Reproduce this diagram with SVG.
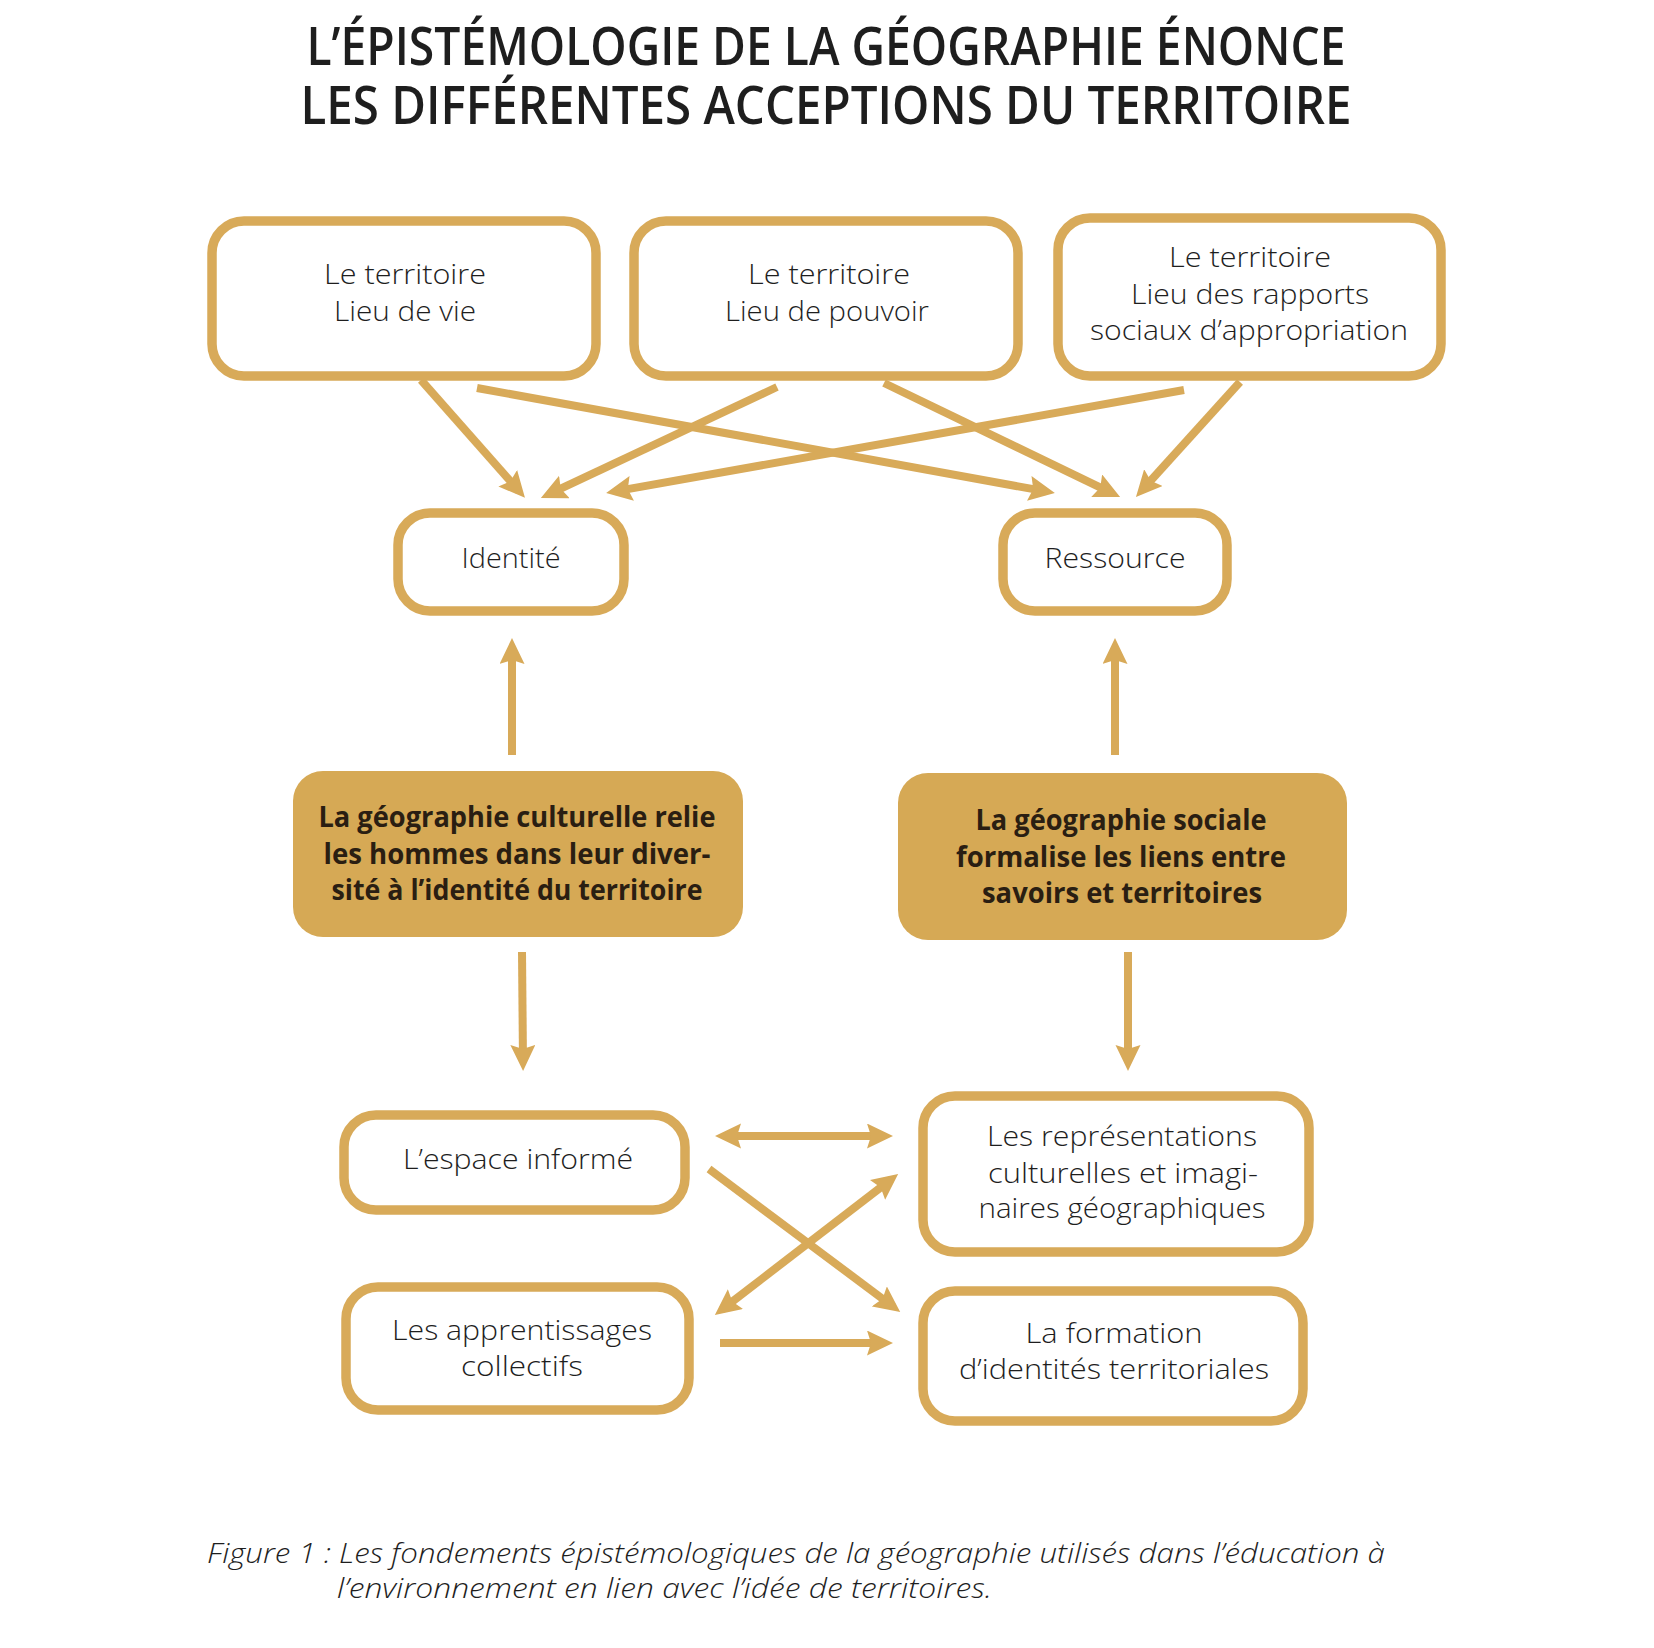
<svg xmlns="http://www.w3.org/2000/svg" width="1654" height="1648" viewBox="0 0 1654 1648">
<style>
.bg{fill:#ffffff}
.box{fill:#ffffff;stroke:#D8AA59;stroke-width:9.5}
.fbox{fill:#D6A955;stroke:none}
.t{font-family:"Open Sans","Liberation Sans",sans-serif;font-weight:300;font-size:28px;fill:#1e1e1e;text-anchor:middle}
.b{font-family:"Open Sans","Liberation Sans",sans-serif;font-weight:700;font-size:28px;fill:#2a1e12;text-anchor:middle}
.title{font-family:"Open Sans","Liberation Sans",sans-serif;font-weight:600;font-size:52px;fill:#1e1e1e;text-anchor:middle}
.cap{font-family:"Open Sans","Liberation Sans",sans-serif;font-weight:300;font-style:italic;font-size:27px;fill:#1e1e1e}
.c{stroke:#D8AA59;stroke-width:8;fill:none}
</style>
<defs>
<marker id="ah" markerUnits="userSpaceOnUse" markerWidth="28" markerHeight="26" refX="17" refY="12.5" orient="auto-start-reverse">
<path d="M0,0 L26,12.5 L0,25 L4,12.5 z" fill="#D8AA59"/>
</marker>
</defs>
<rect class="bg" x="0" y="0" width="1654" height="1648"/>
<g id="title">
<text class="title" x="826" y="65" textLength="1039" lengthAdjust="spacingAndGlyphs">L’ÉPISTÉMOLOGIE DE LA GÉOGRAPHIE ÉNONCE</text>
<text class="title" x="826" y="124" textLength="1051" lengthAdjust="spacingAndGlyphs">LES DIFFÉRENTES ACCEPTIONS DU TERRITOIRE</text>
</g>
<g id="connectors">
<line class="c" x1="421" y1="380" x2="519" y2="491" marker-end="url(#ah)"/>
<line class="c" x1="477" y1="388" x2="1046" y2="491.4" marker-end="url(#ah)"/>
<line class="c" x1="777" y1="387" x2="549" y2="494.2" marker-end="url(#ah)"/>
<line class="c" x1="884" y1="383" x2="1112" y2="493.1" marker-end="url(#ah)"/>
<line class="c" x1="1184" y1="390" x2="615" y2="491.4" marker-end="url(#ah)"/>
<line class="c" x1="1240" y1="382" x2="1142" y2="490.3" marker-end="url(#ah)"/>
<line class="c" x1="512" y1="755" x2="512" y2="647" marker-end="url(#ah)"/>
<line class="c" x1="1115" y1="755" x2="1115" y2="647" marker-end="url(#ah)"/>
<line class="c" x1="522" y1="952" x2="523" y2="1062" marker-end="url(#ah)"/>
<line class="c" x1="1128" y1="952" x2="1128" y2="1062" marker-end="url(#ah)"/>
<line class="c" x1="724" y1="1136" x2="884" y2="1136" marker-start="url(#ah)" marker-end="url(#ah)"/>
<line class="c" x1="709" y1="1169" x2="893" y2="1306.6" marker-end="url(#ah)"/>
<line class="c" x1="722" y1="1309.5" x2="891" y2="1179.5" marker-start="url(#ah)" marker-end="url(#ah)"/>
<line class="c" x1="720" y1="1343" x2="884" y2="1343" marker-end="url(#ah)"/>
</g>
<g id="n-vie">
<rect class="box" x="212" y="221" width="384" height="155" rx="32"/>
<text class="t" x="405" y="284" textLength="162" lengthAdjust="spacingAndGlyphs">Le territoire</text>
<text class="t" x="405" y="321" textLength="142" lengthAdjust="spacingAndGlyphs">Lieu de vie</text>
</g>
<g id="n-pouvoir">
<rect class="box" x="634" y="221" width="384" height="155" rx="32"/>
<text class="t" x="829" y="284" textLength="162" lengthAdjust="spacingAndGlyphs">Le territoire</text>
<text class="t" x="827" y="321" textLength="204" lengthAdjust="spacingAndGlyphs">Lieu de pouvoir</text>
</g>
<g id="n-rapports">
<rect class="box" x="1058" y="218" width="383" height="158" rx="32"/>
<text class="t" x="1250" y="267" textLength="162" lengthAdjust="spacingAndGlyphs">Le territoire</text>
<text class="t" x="1250" y="304" textLength="238" lengthAdjust="spacingAndGlyphs">Lieu des rapports</text>
<text class="t" x="1249" y="340" textLength="318" lengthAdjust="spacingAndGlyphs">sociaux d’appropriation</text>
</g>
<g id="n-identite">
<rect class="box" x="398" y="513" width="226" height="98" rx="32"/>
<text class="t" x="511" y="568" textLength="99" lengthAdjust="spacingAndGlyphs">Identité</text>
</g>
<g id="n-ressource">
<rect class="box" x="1003" y="513" width="224" height="98" rx="32"/>
<text class="t" x="1115" y="568" textLength="141" lengthAdjust="spacingAndGlyphs">Ressource</text>
</g>
<g id="n-culturelle">
<rect class="fbox" x="293" y="771" width="450" height="166" rx="30"/>
<text class="b" x="517" y="827" textLength="397" lengthAdjust="spacingAndGlyphs">La géographie culturelle relie</text>
<text class="b" x="517" y="864" textLength="387" lengthAdjust="spacingAndGlyphs">les hommes dans leur diver-</text>
<text class="b" x="517" y="900" textLength="371" lengthAdjust="spacingAndGlyphs">sité à l’identité du territoire</text>
</g>
<g id="n-sociale">
<rect class="fbox" x="898" y="773" width="449" height="167" rx="30"/>
<text class="b" x="1121" y="830" textLength="291" lengthAdjust="spacingAndGlyphs">La géographie sociale</text>
<text class="b" x="1121" y="867" textLength="330" lengthAdjust="spacingAndGlyphs">formalise les liens entre</text>
<text class="b" x="1122" y="903" textLength="280" lengthAdjust="spacingAndGlyphs">savoirs et territoires</text>
</g>
<g id="n-espace">
<rect class="box" x="344" y="1115" width="341" height="95" rx="32"/>
<text class="t" x="518" y="1169" textLength="230" lengthAdjust="spacingAndGlyphs">L’espace informé</text>
</g>
<g id="n-representations">
<rect class="box" x="923" y="1096" width="386" height="156" rx="32"/>
<text class="t" x="1122" y="1146" textLength="270" lengthAdjust="spacingAndGlyphs">Les représentations</text>
<text class="t" x="1123" y="1183" textLength="270" lengthAdjust="spacingAndGlyphs">culturelles et imagi-</text>
<text class="t" x="1122" y="1218" textLength="287" lengthAdjust="spacingAndGlyphs">naires géographiques</text>
</g>
<g id="n-apprentissages">
<rect class="box" x="346" y="1287" width="343" height="123" rx="32"/>
<text class="t" x="522" y="1340" textLength="260" lengthAdjust="spacingAndGlyphs">Les apprentissages</text>
<text class="t" x="522" y="1376" textLength="122" lengthAdjust="spacingAndGlyphs">collectifs</text>
</g>
<g id="n-formation">
<rect class="box" x="923" y="1291" width="380" height="130" rx="32"/>
<text class="t" x="1114" y="1343" textLength="177" lengthAdjust="spacingAndGlyphs">La formation</text>
<text class="t" x="1114" y="1379" textLength="310" lengthAdjust="spacingAndGlyphs">d’identités territoriales</text>
</g>
<g id="caption">
<text class="cap" x="207" y="1563" textLength="1178" lengthAdjust="spacingAndGlyphs">Figure 1 : Les fondements épistémologiques de la géographie utilisés dans l’éducation à</text>
<text class="cap" x="337" y="1598" textLength="655" lengthAdjust="spacingAndGlyphs">l’environnement en lien avec l’idée de territoires.</text>
</g>
</svg>
